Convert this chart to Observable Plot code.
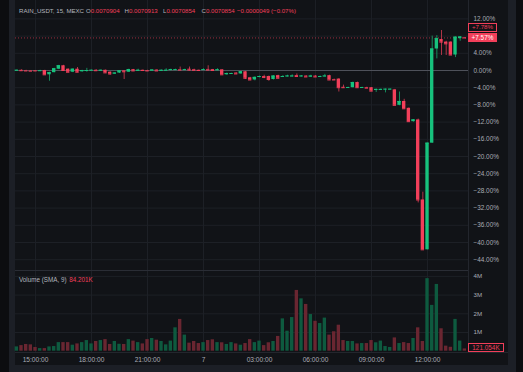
<!DOCTYPE html>
<html><head><meta charset="utf-8">
<script src="https://cdn.jsdelivr.net/npm/d3@7"></script>
<script src="https://cdn.jsdelivr.net/npm/@observablehq/plot@0.6"></script>
<style>
html,body{margin:0;padding:0;background:#0c0d10;}
#wrap{position:relative;width:523px;height:372px;overflow:hidden;background:#0c0d10;font-family:"Liberation Sans",Arial,sans-serif;}
#frame{position:absolute;left:9px;top:0;width:507px;height:372px;background:#1c1f26;}
#panel{position:absolute;left:15px;top:0;width:493px;height:365px;background:#111317;}
.abs{position:absolute;white-space:nowrap;line-height:1;}
svg{position:absolute;left:0;overflow:visible;}
.txt{font-size:6.1px;color:#b2b5be;}
.red{color:#f23f5a;}
</style></head>
<body>
<div id="wrap">
  <div id="frame"></div>
  <div id="panel"></div>
</div>
<script>
// ---- data (percent change vs first bar; 15-minute bars starting 14:00) ----
const symbolTitle = "RAIN_USDT, 15, MEXC";
const ohlcLabels = ["O","H","L","C"];
const ohlcValues = ["0.0070904","0.0070913","0.0070854","0.0070854"];
const changeText = "−0.0000049 (−0.07%)";
const volumeTitle = "Volume (SMA, 9)";
const volumeSma = "84.201K";
const lastVolumeText = "121.054K";
const secondPriceLabel = "+7.78%";

const open = [0.0,0.05,-0.05,-0.1,-0.05,-0.1,0.0,-1.0,-0.5,0.3,
 1.1,0.3,-0.4,0.3,-0.3,-0.2,0.0,0.05,-0.05,0.05,
 -0.4,-0.8,-0.6,-0.1,-0.4,0.2,-0.1,0.05,0.0,-0.1,
 0.1,-0.15,0.0,0.0,0.1,0.2,0.1,0.3,0.2,0.05,
 0.05,0.25,0.2,0.0,0.15,-1.0,-0.8,-0.6,-0.8,-0.3,
 -1.7,-2.2,-1.6,-1.4,-1.4,-2.1,-1.2,-1.5,-1.4,-1.4,
 -1.2,-1.4,-1.3,-1.5,-1.3,-1.5,-1.4,-1.2,-2.1,-2.0,
 -3.9,-4.0,-4.0,-2.8,-4.0,-3.95,-4.0,-4.6,-4.5,-4.4,
 -4.4,-4.5,-8.1,-7.2,-8.8,-11.9,-11.5,-30.1,-41.7,-16.9,
 5.0,7.2,6.6,6.6,3.6,7.4,7.64];
const high = [0.1,0.15,0.05,0.0,0.0,0.05,0.05,-0.4,0.5,1.2,
 1.2,0.4,0.35,0.7,0.05,0.5,0.1,0.2,0.1,0.1,
 -0.3,-0.55,-0.05,0.0,0.3,0.25,0.3,0.1,0.05,0.15,
 0.15,0.1,0.4,0.3,0.3,0.8,0.3,0.8,0.3,0.1,
 0.4,1.1,0.25,0.4,0.2,-0.6,-0.65,-0.5,-0.2,-0.25,
 -1.6,-1.5,-1.3,-1.1,-1.3,-1.2,-1.1,-1.2,-1.1,-1.0,
 -0.8,-1.2,-1.2,-1.1,-1.2,-1.3,-0.9,-1.1,-2.0,-1.9,
 -3.4,-3.9,-2.7,-2.7,-3.9,-3.9,-3.95,-4.3,-4.3,-4.3,
 -4.3,-4.4,-5.0,-6.7,-8.7,-11.4,-11.3,-28.3,-16.9,8.0,
 8.1,9.3,6.8,6.7,7.8,7.9,7.66];
const low = [-0.1,-0.1,-0.15,-0.2,-0.15,-0.15,-1.05,-2.5,-0.55,0.2,
 -0.1,-0.5,-0.5,-0.5,-0.4,-0.4,-0.1,-0.1,-0.1,-0.6,
 -1.1,-0.9,-0.7,-2.1,-0.45,-0.2,-0.2,-0.1,-0.2,-0.2,
 -0.15,-0.2,-0.1,-0.1,0.0,0.05,0.0,-0.2,0.0,-0.05,
 0.0,0.05,-0.05,-0.05,-1.05,-1.1,-0.9,-0.9,-0.9,-2.1,
 -2.3,-2.4,-1.7,-1.9,-2.5,-2.2,-1.9,-1.6,-1.5,-1.5,
 -1.5,-1.5,-1.6,-1.6,-1.6,-1.6,-1.5,-2.25,-2.3,-5.0,
 -4.1,-4.1,-4.05,-4.05,-4.05,-4.2,-4.85,-5.1,-4.6,-5.2,
 -4.5,-8.15,-8.2,-8.95,-11.95,-12.0,-30.8,-41.7,-41.7,-16.9,
 2.7,3.5,3.5,3.5,3.0,6.8,7.57];
const close = [0.05,-0.05,-0.1,-0.15,-0.1,-0.05,-1.0,-0.5,0.4,1.1,
 0.0,-0.4,0.3,-0.4,0.0,0.0,0.05,-0.05,0.05,-0.55,
 -0.8,-0.6,-0.1,-0.3,0.2,-0.1,0.05,0.0,-0.1,0.1,
 -0.1,0.05,0.05,0.2,0.2,0.1,0.2,0.1,0.05,0.0,
 0.2,0.1,0.0,0.15,-1.0,-0.7,-0.7,-0.8,-0.3,-1.8,
 -2.2,-1.6,-1.4,-1.6,-2.1,-1.3,-1.8,-1.4,-1.3,-1.3,
 -1.4,-1.3,-1.5,-1.3,-1.5,-1.4,-1.3,-2.2,-2.2,-4.0,
 -4.0,-3.95,-2.8,-4.0,-3.95,-4.1,-4.8,-4.4,-4.4,-4.35,
 -4.35,-8.1,-7.2,-8.9,-11.9,-11.5,-30.1,-41.7,-16.9,5.0,
 7.4,6.6,6.2,3.6,7.75,7.78,7.57];
// volume in millions
const volume = [0.23,0.30,0.36,0.34,0.20,0.14,0.14,0.23,0.25,0.46,
 0.46,0.46,0.32,0.39,0.46,0.57,0.39,0.52,0.57,0.62,
 0.36,0.52,0.37,0.36,0.62,0.54,0.46,0.39,0.62,0.68,
 0.59,0.52,0.34,0.54,1.25,1.70,0.86,0.43,0.52,0.41,
 0.46,0.57,0.61,0.46,0.45,0.36,0.46,0.39,0.32,0.41,
 0.62,0.46,0.54,0.30,0.45,0.52,0.79,1.73,1.07,1.80,
 3.25,2.80,2.50,1.96,1.60,1.48,1.77,0.86,1.04,1.39,
 0.57,0.52,0.52,0.39,0.41,0.41,0.57,0.45,0.54,0.25,
 0.20,0.71,0.41,0.46,0.41,0.68,1.25,0.52,3.88,2.45,
 3.57,1.20,0.27,0.21,1.70,0.54,0.121];
const firstBarUTC = "2025-01-06T14:00:00Z";
const tickTimes = ["15:00","18:00","21:00","00:00","03:00","06:00","09:00","12:00"];
const tickLabels = ["15:00:00","18:00:00","21:00:00","7","03:00:00","06:00:00","09:00:00","12:00:00"];
const priceTicks = [12,8,4,0,-4,-8,-12,-16,-20,-24,-28,-32,-36,-40,-44];
const volumeTicks = [1,2,3,4];
const volumeTickLabels = ["1M","2M","3M","4M"];

// ---- styles ----
const GREEN = "#17c27d", RED = "#f23f5a";
const GREEN_W = "#168a5c", RED_W = "#b23548";
const GREEN_V = "#0e5a3f", RED_V = "#6a2631";
const GRID = "#1d2026", AXIS_TXT = "#a9acb5";
const FONT = "Liberation Sans, Arial, sans-serif";

const t0 = new Date(firstBarUTC).getTime();
const bars = open.map((o, i) => {
  const t = new Date(t0 + i * 15 * 60000);
  return {i, hm: t.toISOString().slice(11,16), open: o, high: high[i], low: low[i], close: close[i], volume: volume[i], up: close[i] >= o};
});
const tickIdx = tickTimes.map(h => bars.find(b => b.hm === h).i);
const tickLabelOf = new Map(tickIdx.map((k, j) => [k, tickLabels[j]]));
const lastClose = close[close.length - 1];
// axis labels hidden where the last-price labels sit (as in the original)
const priceTickLabels = priceTicks.filter(t => Math.abs(t - lastClose) > 1.5);

const xScale = {type: "band", domain: bars.map(b => b.i), range: [14.65, 466.04], paddingInner: 0.28, paddingOuter: 0, round: false};
const W = 523;
const fmtPct = d => (d > 0 ? "" : d < 0 ? "−" : "") + Math.abs(d).toFixed(2) + "%";

const price = Plot.plot({
  width: W, height: 270, marginLeft: 15, marginRight: 55, marginTop: 0, marginBottom: 0,
  style: {background: "transparent", color: AXIS_TXT, fontSize: "6.4px", fontFamily: FONT},
  x: {...xScale, axis: null},
  y: {domain: [-44, 12], range: [70 + 44 * 4.3, 70 - 12 * 4.3], axis: null},
  marks: [
    Plot.gridY(priceTicks, {stroke: GRID, strokeOpacity: 1}),
    Plot.gridX(tickIdx, {stroke: GRID, strokeOpacity: 1}),
    Plot.ruleY([0], {stroke: "#4e515a"}),
    Plot.ruleY([lastClose], {stroke: RED, strokeDasharray: "1,2", strokeOpacity: 0.6}),
    Plot.ruleX(bars, {x: "i", y1: "low", y2: "high", stroke: d => d.up ? GREEN_W : RED_W, strokeWidth: 1}),
    Plot.barY(bars, {x: "i", y1: "open", y2: "close", fill: d => d.up ? GREEN : RED}),
    Plot.tickY(bars, {x: "i", y: "close", stroke: d => d.up ? GREEN : RED, strokeWidth: 1}),
    Plot.axisY(priceTickLabels, {anchor: "right", label: null, tickSize: 0, tickPadding: 5, tickFormat: fmtPct, fontSize: 6.4})
  ]
});
price.style.top = "0px";

const vol = Plot.plot({
  width: W, height: 95, marginLeft: 15, marginRight: 55, marginTop: 0, marginBottom: 13,
  style: {background: "transparent", color: AXIS_TXT, fontSize: "6.4px", fontFamily: FONT},
  x: {...xScale, axis: null},
  y: {domain: [0, 4], range: [80.7, 80.7 - 4 * 18.7], axis: null},
  marks: [
    Plot.gridY(volumeTicks, {stroke: GRID, strokeOpacity: 1}),
    Plot.gridX(tickIdx, {stroke: GRID, strokeOpacity: 1}),
    Plot.barY(bars, {x: "i", y: "volume", fill: d => d.up ? GREEN_V : RED_V}),
    Plot.axisY(volumeTicks, {anchor: "right", label: null, tickSize: 0, tickPadding: 5, tickFormat: d => volumeTickLabels[volumeTicks.indexOf(d)], fontSize: 6.2}),
    Plot.axisX(tickIdx, {anchor: "bottom", label: null, tickSize: 0, tickPadding: 4.5, tickFormat: d => tickLabelOf.get(d), fontSize: 6.6})
  ]
});
vol.style.top = "270px";

const wrap = document.getElementById("wrap");
wrap.appendChild(price);
wrap.appendChild(vol);

function add(html, css, cls) {
  const d = document.createElement("div");
  d.className = "abs " + (cls || "");
  d.innerHTML = html;
  Object.assign(d.style, css);
  wrap.appendChild(d);
  return d;
}
// pane separators
add("", {left: "15px", top: "270px", width: "453px", height: "1px", background: "#2a2d35"});
add("", {left: "15px", top: "352px", width: "493px", height: "1px", background: "#23262d"});
add("", {left: "468px", top: "0px", width: "1px", height: "352px", background: "#23262d"});

// header
add(symbolTitle, {left: "19px", top: "8px"}, "txt");
const hx = [86, 124.5, 163, 201.5];
ohlcLabels.forEach((l, j) => add(l + '<span class="red">' + ohlcValues[j] + '</span>', {left: hx[j] + "px", top: "8px"}, "txt"));
add(changeText, {left: "237px", top: "8px"}, "txt red");

// volume title
add(volumeTitle + ' <span class="red" style="margin-left:1px">' + volumeSma + '</span>', {left: "19px", top: "276.5px", fontSize: "6.3px"}, "txt");

// price labels on axis
const yLast = price.scale("y").apply(lastClose);
add("+" + fmtPct(lastClose), {left: "468px", top: (yLast - 4.2) + "px", width: "29px", height: "9px", background: RED, color: "#ffffff", fontSize: "6.4px", textAlign: "center", lineHeight: "9px"});
add(secondPriceLabel, {left: "468px", top: (yLast - 14.4) + "px", width: "27px", height: "6.6px", border: "1px solid " + RED, color: RED, fontSize: "6.2px", textAlign: "center", lineHeight: "6.6px", background: "#111317"});
const yVol = 270 + vol.scale("y").apply(volume[volume.length - 1]);
const vTop = Math.min(yVol - 4.5, 351.7 - 9);
add(lastVolumeText, {left: "468px", top: vTop + "px", width: "34px", height: "7px", border: "1px solid " + RED, color: RED, fontSize: "6.4px", textAlign: "center", lineHeight: "7px", background: "#111317"});
</script>
</body></html>
